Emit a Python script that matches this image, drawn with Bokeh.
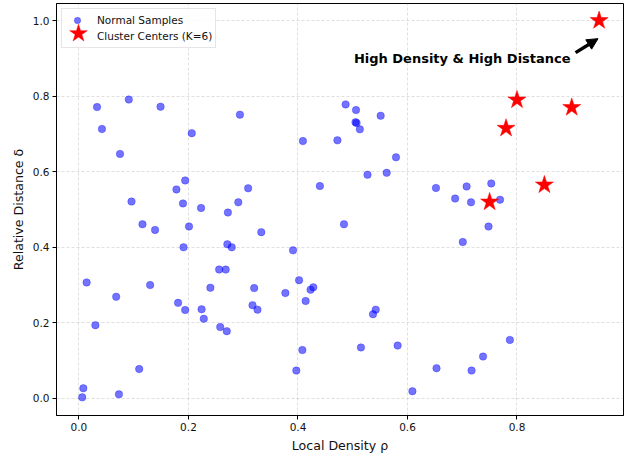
from bokeh.plotting import figure
from bokeh.models import (ColumnDataSource, Range1d, PrintfTickFormatter, FixedTicker,
                          Legend, LegendItem, Arrow, NormalHead, Label)
from bokeh.embed import file_html
from bokeh.resources import INLINE

# ---- data ----
normal_rho = [0.033, 0.042, 0.091, 0.149, 0.075, 0.206, 0.294, 0.409, 0.440, 0.178,
              0.194, 0.096, 0.190, 0.223, 0.272, 0.291, 0.309, 0.116, 0.139, 0.201,
              0.333, 0.191, 0.271, 0.279, 0.391, 0.256, 0.268, 0.014, 0.130, 0.068,
              0.240, 0.320, 0.402, 0.377, 0.423, 0.428, 0.414, 0.181, 0.194, 0.224,
              0.228, 0.317, 0.326, 0.258, 0.270, 0.030, 0.408, 0.397, 0.110, 0.008,
              0.006, 0.073, 0.484, 0.748, 0.701, 0.542, 0.537, 0.515, 0.582, 0.787,
              0.738, 0.653, 0.717, 0.609, 0.487, 0.506, 0.505, 0.507, 0.513, 0.551,
              0.472, 0.579, 0.527, 0.562, 0.652, 0.687, 0.708, 0.716, 0.753, 0.769]
normal_delta = [0.771, 0.713, 0.791, 0.772, 0.647, 0.702, 0.751, 0.681, 0.562, 0.553,
                0.577, 0.521, 0.516, 0.504, 0.492, 0.519, 0.556, 0.461, 0.446, 0.455,
                0.440, 0.400, 0.408, 0.400, 0.392, 0.341, 0.341, 0.307, 0.300, 0.269,
                0.293, 0.292, 0.313, 0.279, 0.288, 0.294, 0.258, 0.253, 0.234, 0.236,
                0.211, 0.247, 0.235, 0.189, 0.178, 0.194, 0.128, 0.074, 0.078, 0.027,
                0.003, 0.011, 0.461, 0.455, 0.414, 0.235, 0.223, 0.135, 0.140, 0.155,
                0.111, 0.080, 0.074, 0.019, 0.778, 0.763, 0.731, 0.729, 0.712, 0.748,
                0.683, 0.638, 0.592, 0.597, 0.557, 0.529, 0.561, 0.519, 0.569, 0.526]

center_rho = [0.95, 0.80, 0.90, 0.78, 0.85, 0.75]
center_delta = [1.00, 0.79, 0.77, 0.715, 0.565, 0.52]

x_ticks = [0.0, 0.2, 0.4, 0.6, 0.8]
y_ticks = [0.0, 0.2, 0.4, 0.6, 0.8, 1.0]

annot_text = "High Density & High Distance"
annot_xy = (0.70, 0.90)
arrow_from = (0.907, 0.915)
arrow_to = (0.948, 0.952)

FONT = "DejaVu Sans"

p = figure(width=631, height=456, output_backend="svg", toolbar_location=None,
           x_range=Range1d(-0.041, 0.9945), y_range=Range1d(-0.045, 1.045),
           min_border_left=56, min_border_right=8, min_border_top=3, min_border_bottom=41)

p.outline_line_color = "black"
p.outline_line_width = 1
p.outline_line_alpha = 1

for ax in (p.xaxis[0], p.yaxis[0]):
    ax.formatter = PrintfTickFormatter(format="%.1f")
    ax.axis_line_color = "black"
    ax.major_tick_line_color = "black"
    ax.minor_tick_line_color = None
    ax.major_tick_in = 0
    ax.major_tick_out = 4
    ax.major_label_text_font = FONT
    ax.major_label_text_font_size = "10.5px"
    ax.major_label_text_color = "#111111"
    ax.axis_label_text_font = FONT
    ax.axis_label_text_font_size = "12.6px"
    ax.axis_label_text_font_style = "normal"
    ax.axis_label_text_color = "#111111"
    ax.major_label_standoff = 3
    ax.axis_label_standoff = 4

p.xaxis[0].ticker = FixedTicker(ticks=x_ticks)
p.yaxis[0].ticker = FixedTicker(ticks=y_ticks)
p.xaxis.axis_label = "Local Density ρ"
p.yaxis.axis_label = "Relative Distance δ"

p.grid.grid_line_color = "#b0b0b0"
p.grid.grid_line_alpha = 0.5
p.grid.grid_line_dash = "3 2"
p.grid.grid_line_width = 0.8
p.xgrid[0].ticker = FixedTicker(ticks=x_ticks)
p.ygrid[0].ticker = FixedTicker(ticks=y_ticks)

src_n = ColumnDataSource(dict(x=normal_rho, y=normal_delta))
src_c = ColumnDataSource(dict(x=center_rho, y=center_delta))

r_n = p.scatter("x", "y", source=src_n, marker="circle", size=7.5,
                fill_color="blue", fill_alpha=0.55, line_color="blue", line_alpha=0.35,
                line_width=0.8)
r_c = p.scatter("x", "y", source=src_c, marker="star", size=19,
                fill_color="red", line_color="red", line_width=0.5)
# empty, invisible renderer: holds the legend slot for the star (drawn large by legend 2)
r_c_slot = p.scatter(x=[], y=[], marker="star", fill_alpha=0, line_alpha=0)

head = NormalHead(size=11, fill_color="black", line_color="black")
p.add_layout(Arrow(end=head, x_start=arrow_from[0], y_start=arrow_from[1],
                   x_end=arrow_to[0], y_end=arrow_to[1],
                   line_color="black", line_width=3.5))

p.add_layout(Label(x=annot_xy[0], y=annot_xy[1], text=annot_text,
                   text_font=FONT, text_font_size="13px", text_font_style="bold",
                   text_align="center", text_baseline="alphabetic", text_color="black"))

legend = Legend(items=[LegendItem(label="Normal Samples", renderers=[r_n]),
                       LegendItem(label="Cluster Centers (K=6)", renderers=[r_c_slot])],
                location="top_left")
legend.label_text_font = FONT
legend.label_text_font_size = "10.5px"
legend.label_text_color = "#111111"
legend.border_line_color = "#cccccc"
legend.border_line_width = 1
legend.background_fill_alpha = 0.8
legend.padding = 3
legend.spacing = 0
legend.margin = 5
legend.glyph_width = 24
legend.glyph_height = 16
legend.label_height = 16
legend.label_standoff = 8
p.add_layout(legend)

# second, borderless legend that only draws the large star symbol of the second entry
FRAME_H = 456 - 3 - 41
legend2 = Legend(items=[LegendItem(label="", renderers=[r_c])],
                 location=(-1.5, FRAME_H - 53))
legend2.glyph_width = 46
legend2.glyph_height = 46
legend2.label_height = 0
legend2.label_width = 0
legend2.label_standoff = 0
legend2.padding = 0
legend2.margin = 0
legend2.spacing = 0
legend2.border_line_alpha = 0
legend2.background_fill_alpha = 0
p.add_layout(legend2)

open("out.html", "w").write(file_html(p, INLINE))
